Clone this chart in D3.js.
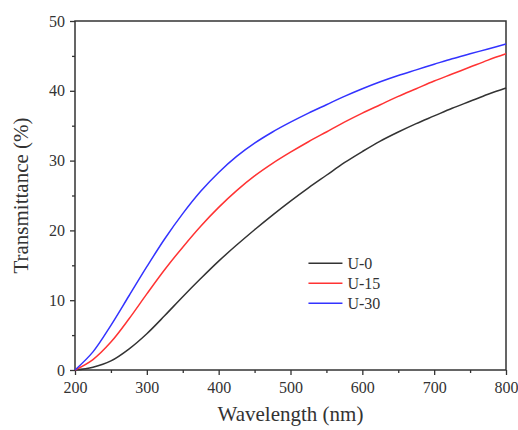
<!DOCTYPE html>
<html>
<head>
<meta charset="utf-8">
<script src="https://cdn.jsdelivr.net/npm/d3@7"></script>
<style>
	body { margin: 0; background: #fff; }
	text { font-family: "Liberation Serif", "Times New Roman", serif; fill: #333; }
</style>
</head>
<body>
<div id="chart"></div>
<script>
// wavelength grid (nm)
const wavelengths = [200, 225, 250, 275, 300, 325, 350, 375, 400, 425, 450, 475, 500,
	525, 550, 575, 600, 625, 650, 675, 700, 725, 750, 775, 800];

// transmittance (%) per sample
const u0 = [0, 0.4, 1.3, 3.0, 5.2, 7.8, 10.5, 13.1, 15.6, 17.9, 20.1, 22.2, 24.2,
	26.1, 27.9, 29.7, 31.3, 32.8, 34.1, 35.3, 36.4, 37.5, 38.5, 39.5, 40.4];
const u15 = [0, 1.5, 4.0, 7.3, 10.9, 14.4, 17.6, 20.6, 23.3, 25.7, 27.8, 29.6, 31.2,
	32.7, 34.1, 35.5, 36.8, 38.0, 39.2, 40.3, 41.4, 42.4, 43.4, 44.4, 45.3];
const u30 = [0, 2.6, 6.4, 10.6, 14.8, 18.8, 22.4, 25.6, 28.3, 30.6, 32.5, 34.1, 35.5,
	36.8, 38.0, 39.2, 40.3, 41.3, 42.2, 43.0, 43.8, 44.6, 45.3, 46.0, 46.7];

const seriesNames = ["U-0", "U-15", "U-30"];
const seriesColors = ["#333333", "#ff3333", "#3333ff"];
const xTicks = [200, 300, 400, 500, 600, 700, 800];
const yTicks = [0, 10, 20, 30, 40, 50];

const W = 518, H = 430;
const margin = {top: 21, right: 12, bottom: 60, left: 75};
const width = W - margin.left - margin.right;
const height = H - margin.top - margin.bottom;

const svg = d3.select("#chart").append("svg")
	.attr("width", W)
	.attr("height", H);

const g = svg.append("g")
	.attr("transform", `translate(${margin.left},${margin.top})`);

const x = d3.scaleLinear().domain([200, 800]).range([0, width]);
const y = d3.scaleLinear().domain([0, 50]).range([height, 0]);

// minor ticks first (no labels)
g.append("g")
	.attr("transform", `translate(0,${height})`)
	.call(d3.axisBottom(x).tickValues(d3.range(250, 800, 100)).tickSize(3).tickFormat(""))
	.call(a => a.select(".domain").remove());
g.append("g")
	.call(d3.axisLeft(y).tickValues(d3.range(5, 50, 10)).tickSize(3).tickFormat(""))
	.call(a => a.select(".domain").remove());

// major axes
g.append("g")
	.attr("transform", `translate(0,${height})`)
	.call(d3.axisBottom(x).tickValues(xTicks).tickSize(5).tickPadding(7));
g.append("g")
	.call(d3.axisLeft(y).tickValues(yTicks).tickSize(5).tickPadding(5));

g.selectAll(".tick line").attr("stroke", "#333").attr("stroke-width", 1.3);
g.selectAll(".domain").remove();
g.selectAll(".tick text")
	.style("font-family", "'Liberation Serif', serif")
	.style("font-size", "16px")
	.attr("fill", "#333");

// frame
g.append("rect")
	.attr("x", 0).attr("y", 0)
	.attr("width", width).attr("height", height)
	.attr("fill", "none")
	.attr("stroke", "#333")
	.attr("stroke-width", 1.5);

// curves
const allSeries = [u0, u15, u30];
const line = d3.line()
	.x((d, i) => x(wavelengths[i]))
	.y(d => y(d))
	.curve(d3.curveCatmullRom);

allSeries.forEach((vals, i) => {
	g.append("path")
		.datum(vals)
		.attr("fill", "none")
		.attr("stroke", seriesColors[i])
		.attr("stroke-width", 1.5)
		.attr("d", line);
});

// legend
const legend = g.append("g")
	.attr("transform", `translate(${x(525)},${y(15.3)})`);
seriesNames.forEach((name, i) => {
	const row = legend.append("g").attr("transform", `translate(0,${i * 20})`);
	row.append("line")
		.attr("x1", 0).attr("x2", 34)
		.attr("stroke", seriesColors[i])
		.attr("stroke-width", 1.5);
	row.append("text")
		.attr("x", 39)
		.attr("dy", "0.35em")
		.style("font-size", "16px")
		.text(name);
});

// axis titles
svg.append("text")
	.attr("x", margin.left + width / 2)
	.attr("y", 421)
	.attr("text-anchor", "middle")
	.style("font-size", "21px")
	.text("Wavelength (nm)");

svg.append("text")
	.attr("transform", `translate(28,${margin.top + height / 2}) rotate(-90)`)
	.attr("text-anchor", "middle")
	.style("font-size", "21px")
	.text("Transmittance (%)");
</script>
</body>
</html>
